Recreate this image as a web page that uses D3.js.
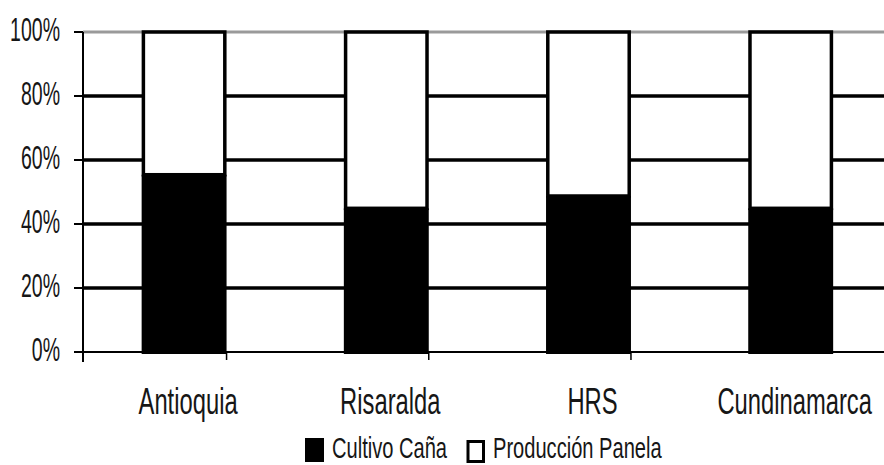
<!DOCTYPE html>
<html>
<head>
<meta charset="utf-8">
<script src="https://cdn.jsdelivr.net/npm/d3@7"></script>
<style>
  html, body { margin: 0; padding: 0; background: #fff; }
  svg { display: block; }
  text { font-family: "Liberation Sans", Arial, sans-serif; fill: #161616; }
</style>
</head>
<body>
<svg id="chart" width="884" height="465"></svg>
<script>
// Share of each stage (cane growing vs. panela production) per region
const categories = ["Antioquia", "Risaralda", "HRS", "Cundinamarca"];
const cultivoCana = [0.554, 0.449, 0.4875, 0.449];
const produccionPanela = cultivoCana.map(v => 1 - v);
const yTicks = [0, 0.2, 0.4, 0.6, 0.8, 1];
const yTickLabels = ["0%", "20%", "40%", "60%", "80%", "100%"];
const seriesNames = ["Cultivo Caña", "Producción Panela"];

const svg = d3.select("#chart");
const plotLeft = 83, plotTop = 32, plotBottom = 352;
const step = 202.2;
const plotRight = plotLeft + step * categories.length;

const x = d3.scaleBand().domain(categories).range([plotLeft, plotRight])
  .paddingInner(0.58).paddingOuter(0.29);
const y = d3.scaleLinear().domain([0, 1]).range([plotBottom, plotTop]);

// horizontal gridlines
svg.append("g").selectAll("line")
  .data(yTicks.filter(t => t > 0))
  .join("line")
  .attr("x1", plotLeft).attr("x2", 884)
  .attr("y1", d => y(d)).attr("y2", d => y(d))
  .attr("stroke", d => d === 1 ? "#9a9a9a" : "#000")
  .attr("stroke-width", d => d === 1 ? 3 : 3.6);

// x axis baseline
svg.append("line")
  .attr("x1", plotLeft).attr("x2", 884)
  .attr("y1", plotBottom).attr("y2", plotBottom)
  .attr("stroke", "#000").attr("stroke-width", 2);

// category boundary ticks below the axis
const bounds = categories.slice(1).map(c => x(c) - x.step() * x.paddingInner());
svg.append("g").selectAll("line")
  .data(bounds)
  .join("line")
  .attr("x1", d => d).attr("x2", d => d)
  .attr("y1", plotBottom).attr("y2", plotBottom + 8)
  .attr("stroke", "#000").attr("stroke-width", 1.5);

// stacked bars
const bars = svg.append("g");
categories.forEach((c, i) => {
  const x0 = x(c), w = x.bandwidth();
  // upper segment: panela production, white with black outline
  bars.append("rect")
    .attr("x", x0 + 1.75).attr("y", y(1))
    .attr("width", w - 3.5)
    .attr("height", y(cultivoCana[i]) - y(1))
    .attr("fill", "#fff").attr("stroke", "#000").attr("stroke-width", 3.5);
  // lower segment: cane growing, solid black
  bars.append("rect")
    .attr("x", x0).attr("y", y(cultivoCana[i]))
    .attr("width", w)
    .attr("height", y(0) - y(cultivoCana[i]) + 2)
    .attr("fill", "#000");
});

// y axis line and ticks
svg.append("line")
  .attr("x1", plotLeft).attr("x2", plotLeft)
  .attr("y1", plotTop).attr("y2", plotBottom + 10)
  .attr("stroke", "#000").attr("stroke-width", 2);
svg.append("g").selectAll("line")
  .data(yTicks)
  .join("line")
  .attr("x1", plotLeft - 9).attr("x2", plotLeft)
  .attr("y1", d => y(d)).attr("y2", d => y(d))
  .attr("stroke", "#000").attr("stroke-width", 2);

// y tick labels (condensed)
svg.append("g").selectAll("text")
  .data(yTicks)
  .join("text")
  .attr("transform", d => `translate(60,${y(d) + 9}) scale(0.6,1)`)
  .attr("text-anchor", "end")
  .attr("font-size", 32.5)
  .text((d, i) => yTickLabels[i]);

// category labels
svg.append("g").selectAll("text")
  .data(categories)
  .join("text")
  .attr("transform", d => `translate(${x(d) + x.bandwidth() / 2 + 4},414) scale(0.66,1)`)
  .attr("text-anchor", "middle")
  .attr("font-size", 36)
  .text(d => d);

// legend
const legend = svg.append("g");
legend.append("rect")
  .attr("x", 305).attr("y", 438).attr("width", 19).attr("height", 24)
  .attr("fill", "#000");
legend.append("text")
  .attr("transform", "translate(332,458) scale(0.67,1)")
  .attr("font-size", 30)
  .text(seriesNames[0]);
legend.append("rect")
  .attr("x", 468).attr("y", 441.5).attr("width", 15.5).attr("height", 20)
  .attr("fill", "#fff").attr("stroke", "#000").attr("stroke-width", 3);
legend.append("text")
  .attr("transform", "translate(493,458) scale(0.67,1)")
  .attr("font-size", 30)
  .text(seriesNames[1]);
</script>
</body>
</html>
